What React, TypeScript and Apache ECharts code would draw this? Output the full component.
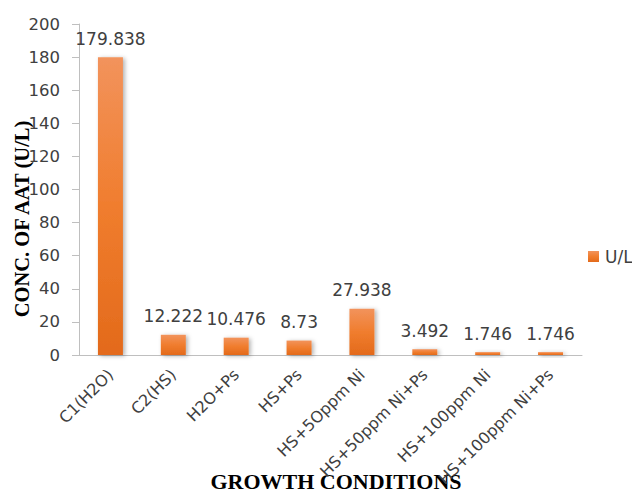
import React, { useEffect, useRef } from "react";
import * as echarts from "echarts";

const categories = [
  "C1(H2O)",
  "C2(HS)",
  "H2O+Ps",
  "HS+Ps",
  "HS+5Oppm Ni",
  "HS+50ppm Ni+Ps",
  "HS+100ppm Ni",
  "HS+100ppm Ni+Ps",
];
const values = [179.838, 12.222, 10.476, 8.73, 27.938, 3.492, 1.746, 1.746];
const valueLabels = ["179.838", "12.222", "10.476", "8.73", "27.938", "3.492", "1.746", "1.746"];
const seriesName = "U/L";
const yTitle = "CONC. OF AAT (U/L)";
const xTitle = "GROWTH CONDITIONS";

export default function App() {
  const ref = useRef<HTMLDivElement>(null);
  useEffect(() => {
    if (!ref.current) return;
    const chart = echarts.init(ref.current, undefined, { renderer: "svg" });
    const grad = new echarts.graphic.LinearGradient(0, 0, 0, 1, [
      { offset: 0, color: "#F2935C" },
      { offset: 0.5, color: "#F07D2E" },
      { offset: 1, color: "#E36A1B" },
    ]);
    const textFont = "DejaVu Sans";
    chart.setOption({
      animation: false,
      backgroundColor: "#ffffff",
      grid: { left: 79, right: 50, top: 24, bottom: 137 },
      legend: {
        left: 583,
        top: 243,
        itemWidth: 11,
        itemHeight: 11,
        itemGap: 6,
        icon: "rect",
        textStyle: { fontFamily: textFont, fontSize: 17, color: "#404040", padding: [0, 0, 0, 1] },
        data: [seriesName],
      },
      xAxis: {
        type: "category",
        data: categories,
        axisLine: { show: true, lineStyle: { color: "#BFBFBF", width: 1 } },
        axisTick: { show: false },
        axisLabel: {
          interval: 0,
          rotate: 45,
          margin: 17,
          padding: [14, 0, 0, 0],
          fontFamily: textFont,
          fontSize: 16,
          color: "#404040",
        },
      },
      yAxis: {
        type: "value",
        min: 0,
        max: 200,
        interval: 20,
        axisLine: { show: true, lineStyle: { color: "#BFBFBF", width: 1 } },
        axisTick: { show: true, length: 7, lineStyle: { color: "#BFBFBF" } },
        splitLine: { show: false },
        axisLabel: { margin: 19, fontFamily: textFont, fontSize: 16.5, color: "#404040" },
      },
      graphic: [
        {
          type: "text",
          x: 22,
          y: 219,
          rotation: Math.PI / 2,
          style: {
            text: yTitle,
            fontFamily: "Liberation Serif",
            fontWeight: "bold",
            fontSize: 20.5,
            fill: "#000000",
            align: "center",
            verticalAlign: "middle",
          },
        },
        {
          type: "text",
          x: 336,
          y: 481,
          style: {
            text: xTitle,
            fontFamily: "Liberation Serif",
            fontWeight: "bold",
            fontSize: 22,
            fill: "#000000",
            align: "center",
            verticalAlign: "middle",
          },
        },
      ],
      series: [
        {
          name: seriesName,
          type: "bar",
          data: values,
          barWidth: 25,
          itemStyle: {
            color: grad,
            shadowBlur: 4,
            shadowOffsetX: 2,
            shadowOffsetY: 1,
            shadowColor: "rgba(0,0,0,0.3)",
          },
          label: {
            show: true,
            position: "top",
            distance: 10,
            fontFamily: textFont,
            fontSize: 17,
            color: "#404040",
            formatter: (p: any) => valueLabels[p.dataIndex],
          },
        },
      ],
    });
    return () => chart.dispose();
  }, []);
  return (
    <div
      ref={ref}
      style={{ position: "absolute", left: 0, top: 0, width: 632, height: 492 }}
    />
  );
}
